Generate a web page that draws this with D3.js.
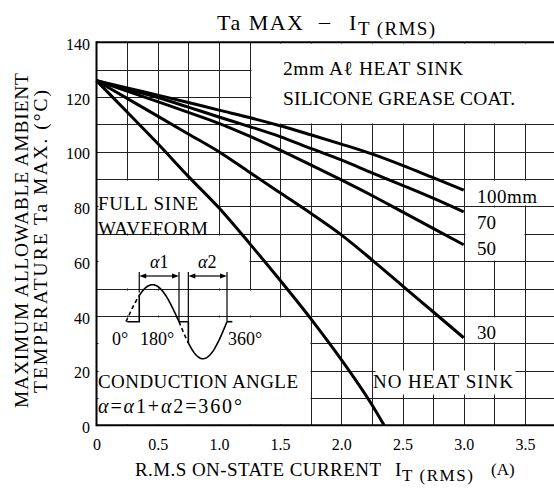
<!DOCTYPE html>
<html>
<head>
<meta charset="utf-8">
<script src="https://cdn.jsdelivr.net/npm/d3@7"></script>
<style>
  body { margin: 0; background: #fff; }
  svg { display: block; }
  text { font-family: "Liberation Serif", "Times New Roman", serif; fill: #000; }
</style>
</head>
<body>
<svg id="chart" width="554" height="492"></svg>
<script>
// values
var currents = [0, 0.25, 0.5, 0.75, 1.0, 1.25, 1.5, 1.75, 2.0, 2.25, 2.5, 2.75, 3.0];
var sink100 = [126, 123.3, 120.7, 118, 115.2, 112.5, 109.5, 106.2, 102.8, 99.2, 95, 90.5, 86];
var sink70  = [126, 122.9, 119.8, 116.3, 112.7, 109.2, 105.5, 101.2, 97, 92.3, 87.7, 83, 78];
var sink50  = [126, 122.2, 118.3, 114.4, 110.4, 105.7, 100.6, 95.2, 89.7, 84, 78, 72, 66];
var sink30  = [126, 119.5, 113, 106.5, 100, 92.5, 85, 77.5, 69.6, 60.5, 51, 41.5, 32];
var noSinkCurrents = [0, 0.25, 0.5, 0.75, 1.0, 1.25, 1.5, 1.75, 2.0, 2.25, 2.35];
var noSinkTemps    = [126, 114.5, 103, 91, 79.5, 66.5, 53, 39, 24, 7.5, 0];
var sinkLabels = ["100mm", "70", "50", "30"];
var xTicks = [0, 0.5, 1.0, 1.5, 2.0, 2.5, 3.0, 3.5];
var xTickLabels = ["0", "0.5", "1.0", "1.5", "2.0", "2.5", "3.0", "3.5"];
var yTicks = [0, 20, 40, 60, 80, 100, 120, 140];

var serif = '"Liberation Serif", "Times New Roman", serif';
var svg = d3.select("#chart");

// plot runs past the right edge (the scan is cropped at 3.75 A)
var x = d3.scaleLinear().domain([0, 4]).range([96.5, 586.1]);
var y = d3.scaleLinear().domain([0, 140]).range([425.3, 42.3]);

// grid every 0.25 A / 10 degC
var gx = d3.range(1, 17).map(function(i) { return i * 0.25; });
var gy = d3.range(1, 14).map(function(i) { return i * 10; });
var grid = svg.append("g").attr("stroke", "#222").attr("stroke-width", 1);
grid.selectAll(".vg").data(gx).enter().append("line")
  .attr("x1", function(d) { return Math.round(x(d)) + 0.5; })
  .attr("x2", function(d) { return Math.round(x(d)) + 0.5; })
  .attr("y1", y(140)).attr("y2", y(0));
grid.selectAll(".hg").data(gy).enter().append("line")
  .attr("y1", function(d) { return Math.round(y(d)) + 0.5; })
  .attr("y2", function(d) { return Math.round(y(d)) + 0.5; })
  .attr("x1", x(0)).attr("x2", 554);

// blank areas where the printed chart left the grid out for text
var blanks = [
  [1.25, 4, 110, 140],
  [0, 1.0, 70, 90], [0, 1.25, 50, 70], [0, 1.5, 40, 50], [0, 1.75, 0, 40],
  [3.0, 4, 80, 90], [3.0, 3.5, 60, 80], [3.0, 3.5, 30, 40],
  [2.27, 3.43, 11, 20.4]
];
svg.append("g").selectAll("rect").data(blanks).enter().append("rect")
  .attr("x", function(d) { return Math.round(x(d[0])) + 1.5; })
  .attr("y", function(d) { return Math.round(y(d[3])) + 1.5; })
  .attr("width", function(d) { return Math.round(x(d[1])) - Math.round(x(d[0])) - 2; })
  .attr("height", function(d) { return Math.round(y(d[2])) - Math.round(y(d[3])) - 2; })
  .attr("fill", "#fff");

// frame
var frame = svg.append("g").attr("stroke", "#000").attr("stroke-width", 2);
frame.append("line").attr("x1", x(0)).attr("x2", x(0)).attr("y1", y(140) - 1).attr("y2", y(0) + 1);
frame.append("line").attr("x1", x(0)).attr("x2", 554).attr("y1", y(0)).attr("y2", y(0));
frame.append("line").attr("x1", x(0)).attr("x2", 554).attr("y1", y(140)).attr("y2", y(140));

// curves
var line = d3.line()
  .x(function(d) { return x(d[0]); })
  .y(function(d) { return y(d[1]); })
  .curve(d3.curveMonotoneX);
var series = [sink100, sink70, sink50, sink30].map(function(s) {
  return currents.map(function(c, i) { return [c, s[i]]; });
});
series.push(noSinkCurrents.map(function(c, i) { return [c, noSinkTemps[i]]; }));
svg.append("g").selectAll("path").data(series).enter().append("path")
  .attr("d", line)
  .attr("fill", "none").attr("stroke", "#000").attr("stroke-width", 3);

// axes (labels only)
var yAxis = svg.append("g").attr("transform", "translate(" + x(0) + ",0)")
  .call(d3.axisLeft(y).tickValues(yTicks).tickSize(0).tickPadding(6.5));
yAxis.select(".domain").remove();
yAxis.selectAll("text").attr("dy", "0.45em");
var xAxis = svg.append("g").attr("transform", "translate(0," + y(0) + ")")
  .call(d3.axisBottom(x).tickValues(xTicks).tickSize(0).tickPadding(13)
    .tickFormat(function(d, i) { return xTickLabels[i]; }));
xAxis.select(".domain").remove();
[xAxis, yAxis].forEach(function(g) {
  g.attr("font-family", serif).attr("font-size", 16);
  g.selectAll("text").style("font-family", serif).style("font-size", "16px").attr("fill", "#000");
});

function label(txt, px, py, size, len) {
  var t = svg.append("text").attr("x", px).attr("y", py)
    .style("font-size", size + "px").text(txt);
  if (len) t.attr("textLength", len);
  return t;
}

// title
label("Ta MAX", 217, 30, 22, 86);
label("\u2013", 319, 29, 22, 13);
label("I", 349, 30, 22);
label("T (RMS)", 358, 35, 19, 77);

// axis titles
label("R.M.S ON-STATE CURRENT", 135, 476, 19, 246);
label("I", 395, 476, 19);
label("T (RMS)", 402, 481, 17, 71);
label("(A)", 491, 475, 17);
svg.append("text").attr("transform", "translate(28,240.5) rotate(-90)")
  .attr("text-anchor", "middle").attr("textLength", 335)
  .style("font-size", "19.5px").text("MAXIMUM ALLOWABLE AMBIENT");
svg.append("text").attr("transform", "translate(47,241.5) rotate(-90)")
  .attr("text-anchor", "middle").attr("textLength", 303)
  .style("font-size", "19.5px").text("TEMPERATURE   Ta MAX.   (\u00b0C)");

// annotations
label("2mm A\u2113 HEAT SINK", 283, 75, 19.5, 180);
label("SILICONE GREASE COAT.", 283, 105, 19.5, 232);
label("FULL SINE", 98, 210, 19, 100);
label("WAVEFORM", 98, 235, 19, 110);
label("CONDUCTION ANGLE", 98, 388, 19, 200);
label("NO HEAT SINK", 373, 388, 19, 140);
var endY = [203, 229, 255, 339];
sinkLabels.forEach(function(s, i) {
  label(s, 477, endY[i], 19, s.length > 2 ? 60 : null);
});

var eq = svg.append("text").attr("x", 98).attr("y", 413)
  .style("font-size", "20px").attr("textLength", 144);
eq.append("tspan").style("font-style", "italic").text("\u03b1");
eq.append("tspan").text("=");
eq.append("tspan").style("font-style", "italic").text("\u03b1");
eq.append("tspan").text("1+");
eq.append("tspan").style("font-style", "italic").text("\u03b1");
eq.append("tspan").text("2=360\u00b0");

// waveform sketch
var deg = d3.scaleLinear().domain([0, 180, 360]).range([126, 179, 227]);
var amp = d3.scaleLinear().domain([-1, 1]).range([358.7, 284.7]);
var fire1 = 45, fire2 = 215;
function sinePts(a, b) {
  var pts = d3.range(a, b, 3).concat([b]);
  return pts.map(function(d) { return [deg(d), amp(Math.sin(d * Math.PI / 180))]; });
}
var raw = d3.line();
var wave = svg.append("g").attr("fill", "none").attr("stroke", "#000").attr("stroke-width", 1.6);
wave.append("path").attr("d", raw([[deg(4), amp(0)], [deg(fire1), amp(0)],
  [deg(fire1), amp(Math.sin(fire1 * Math.PI / 180))]]));
wave.append("path").attr("d", raw(sinePts(fire1, 180)));
wave.append("path").attr("d", raw([[deg(180), amp(0)], [deg(fire2), amp(0)],
  [deg(fire2), amp(Math.sin(fire2 * Math.PI / 180))]]));
wave.append("path").attr("d", raw(sinePts(fire2, 360)));
wave.append("path").attr("d", raw([[deg(360), amp(0)], [deg(380), amp(0)]]));
wave.append("path").attr("d", raw(sinePts(0, fire1))).attr("stroke-dasharray", "4,3");
wave.append("path").attr("d", raw(sinePts(180, fire2))).attr("stroke-dasharray", "4,3");

// dimension lines for a1 / a2
var dim = svg.append("g").attr("stroke", "#000").attr("stroke-width", 1.2);
var dimY = 276;
[[fire1, amp(Math.sin(fire1 * Math.PI / 180)) - 3], [180, amp(0)], [fire2, amp(0)], [360, amp(0)]]
  .forEach(function(d) {
    dim.append("line").attr("x1", deg(d[0])).attr("x2", deg(d[0]))
      .attr("y1", 272).attr("y2", d[1]);
  });
[[fire1, 180], [fire2, 360]].forEach(function(r) {
  var a = deg(r[0]), b = deg(r[1]);
  dim.append("line").attr("x1", a + 6).attr("x2", b - 6).attr("y1", dimY).attr("y2", dimY);
  svg.append("path").attr("fill", "#000")
    .attr("d", "M" + a + "," + dimY + "l7,-2.5v5z M" + b + "," + dimY + "l-7,-2.5v5z");
});
var a1 = svg.append("text").attr("x", 150).attr("y", 268).style("font-size", "18px");
a1.append("tspan").style("font-style", "italic").text("\u03b1");
a1.append("tspan").text("1");
var a2 = svg.append("text").attr("x", 198).attr("y", 268).style("font-size", "18px");
a2.append("tspan").style("font-style", "italic").text("\u03b1");
a2.append("tspan").text("2");
label("0\u00b0", 112, 345, 18);
label("180\u00b0", 140, 345, 18);
label("360\u00b0", 228, 345, 18);
</script>
</body>
</html>
